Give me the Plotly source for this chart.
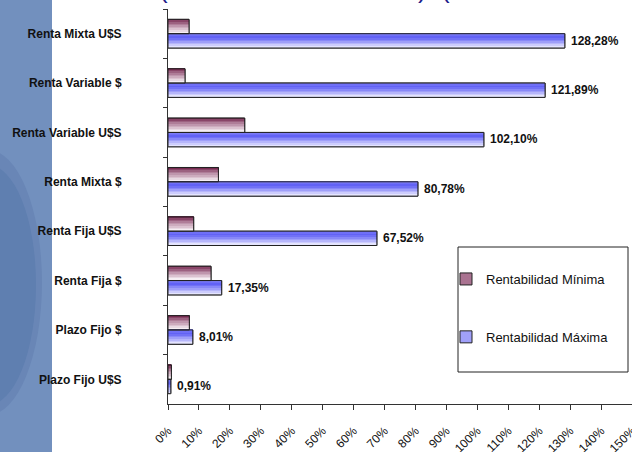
import plotly.graph_objects as go

categories = ["Renta Mixta U$S", "Renta Variable $", "Renta Variable U$S", "Renta Mixta $",
              "Renta Fija U$S", "Renta Fija $", "Plazo Fijo $", "Plazo Fijo U$S"]
rent_min = [6.8, 5.5, 24.8, 16.3, 8.3, 13.9, 6.9, 1.1]
rent_max = [128.28, 121.89, 102.10, 80.78, 67.52, 17.35, 8.01, 0.91]
series_names = ["Rentabilidad Mínima", "Rentabilidad Máxima"]
x_ticks = list(range(0, 151, 10))
x_tick_labels = [f"{t}%" for t in x_ticks]
max_labels = [f"{v:.2f}".replace(".", ",") + "%" for v in rent_max]

W, H = 632, 452
ML, MR, MT, MB = 168, 0, 9, 48
PW, PH = W - ML - MR, H - MT - MB
FONT = "Arial, Liberation Sans, sans-serif"


def px(x):
    return (x - ML) / PW


def py(y):
    return (H - MB - y) / PH


def lerp(stops, t):
    for (t0, c0), (t1, c1) in zip(stops, stops[1:]):
        if t0 <= t <= t1:
            f = (t - t0) / (t1 - t0) if t1 > t0 else 0
            c = [round(a + (b - a) * f) for a, b in zip(c0, c1)]
            return f"rgb({c[0]},{c[1]},{c[2]})"
    c = stops[-1][1]
    return f"rgb({c[0]},{c[1]},{c[2]})"


grad_min = [(0, (108, 28, 68)), (0.45, (185, 140, 165)), (1, (253, 250, 252))]
grad_max = [(0, (130, 130, 250)), (0.3, (95, 95, 245)), (1, (240, 240, 255))]
mid_min = "rgb(170,115,145)"
mid_max = "rgb(160,160,250)"

BW = 0.29
N = 9
fig = go.Figure()

series = [(rent_min, -BW, grad_min, mid_min, series_names[0]),
          (rent_max, 0.0, grad_max, mid_max, series_names[1])]

for vals, off, grad, mid, name in series:
    fig.add_trace(go.Bar(
        y=categories, x=vals, orientation="h", name=name, legendgroup=name,
        width=BW, offset=off, marker=dict(color=mid, line=dict(color="#222", width=1)),
        hoverinfo="skip", showlegend=True))

for vals, off, grad, mid, name in series:
    for k in range(N):
        fig.add_trace(go.Bar(
            y=categories, x=vals, orientation="h", legendgroup=name,
            width=BW / N, offset=off + k * BW / N,
            marker=dict(color=lerp(grad, (k + 0.5) / N), line=dict(width=0)),
            showlegend=False, hoverinfo="skip"))

for vals, off, grad, mid, name in series:
    fig.add_trace(go.Bar(
        y=categories, x=vals, orientation="h", legendgroup=name,
        width=BW, offset=off,
        marker=dict(color="rgba(0,0,0,0)", line=dict(color="#222", width=1)),
        showlegend=False, hoverinfo="skip"))

annotations = [
    dict(text=lab, x=v, y=cat, xref="x", yref="y", xanchor="left", yanchor="middle",
         xshift=4, yshift=-7, showarrow=False,
         font=dict(family=FONT, size=12, color="#111", weight="bold"))
    for v, cat, lab in zip(rent_max, categories, max_labels)
]
annotations += [
    dict(text="(", x=px(163), y=py(6.5), xref="paper", yref="paper", xanchor="center", yanchor="bottom",
         showarrow=False, font=dict(family=FONT, size=26, color="#1c1c8a")),
    dict(text=")  (", x=px(434), y=py(6.5), xref="paper", yref="paper", xanchor="center", yanchor="bottom",
         showarrow=False, font=dict(family=FONT, size=26, color="#1c1c8a")),
]

shapes = [
    dict(type="rect", xref="paper", yref="paper", x0=px(0), x1=px(52), y0=py(H), y1=py(0),
         fillcolor="#7290be", line=dict(width=0), layer="below"),
    dict(type="circle", xref="paper", yref="paper", x0=px(-66), x1=px(42), y0=py(415), y1=py(150),
         fillcolor="#6986b6", line=dict(width=0), layer="below"),
    dict(type="circle", xref="paper", yref="paper", x0=px(-60), x1=px(36), y0=py(405), y1=py(165),
         fillcolor="#5f7fb0", line=dict(width=0), layer="below"),
    dict(type="rect", xref="paper", yref="paper", x0=px(458), x1=px(628), y0=py(372), y1=py(247),
         fillcolor="white", line=dict(color="#222", width=1), layer="below"),
]

fig.update_layout(
    width=W, height=H, margin=dict(l=ML, r=MR, t=MT, b=MB, autoexpand=False),
    paper_bgcolor="white", plot_bgcolor="white",
    barmode="overlay", showlegend=True,
    font=dict(family=FONT, color="#111"),
    legend=dict(x=px(446), y=py(264), xanchor="left", yanchor="top",
                bgcolor="rgba(0,0,0,0)", borderwidth=0, tracegroupgap=38,
                traceorder="grouped", font=dict(family=FONT, size=13, color="#111")),
    shapes=shapes, annotations=annotations,
    xaxis=dict(range=[0, 150], tickvals=x_ticks, ticktext=x_tick_labels, tickangle=-45,
               ticks="outside", ticklen=5, tickcolor="#333", showline=True, linecolor="#333",
               showgrid=False, zeroline=False, automargin=False, ticklabeloverflow="allow",
               ticklabelstandoff=9,
               tickfont=dict(family=FONT, size=12, color="#111")),
    yaxis=dict(type="category", categoryorder="array", categoryarray=categories, autorange="reversed",
               tickson="boundaries", ticks="outside", ticklen=4, tickcolor="#333",
               showline=True, linecolor="#333", showgrid=False, zeroline=False, automargin=False,
               ticklabelstandoff=43,
               tickfont=dict(family=FONT, size=12, color="#111", weight="bold")),
)

fig.write_html("out.html", config={"displayModeBar": False},
               post_script="document.body.style.margin='0';document.body.style.overflow='hidden';")
